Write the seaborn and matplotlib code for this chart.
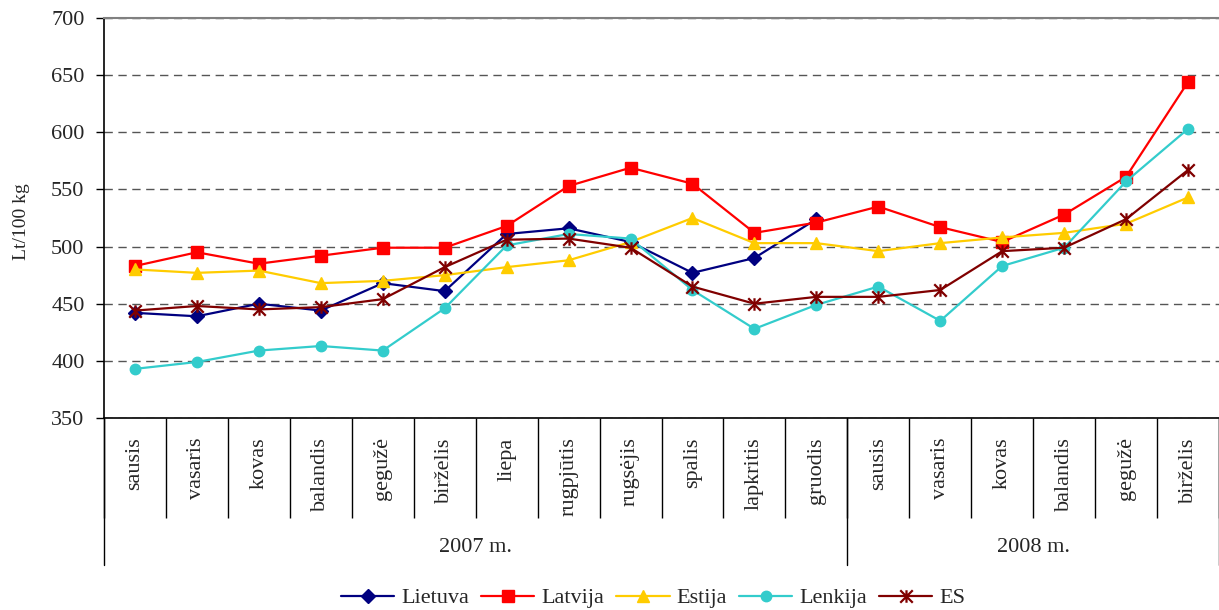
import numpy as np
import pandas as pd
import matplotlib
matplotlib.use("Agg")
import matplotlib.pyplot as plt
import seaborn as sns
from matplotlib.path import Path
from matplotlib.transforms import blended_transform_factory

# Month categories (two years: Jan-Dec 2007, Jan-Jun 2008)
months = ["sausis", "vasaris", "kovas", "balandis", "gegužė", "birželis",
          "liepa", "rugpjūtis", "rugsėjis", "spalis", "lapkritis", "gruodis",
          "sausis", "vasaris", "kovas", "balandis", "gegužė", "birželis"]
years = ["2007 m.", "2008 m."]
months_per_year = [12, 6]

# Prices, Lt/100 kg
lietuva = [442, 439, 450, 444, 468, 461, 511, 516, 504, 477, 490, 524]
latvija = [483, 495, 485, 492, 499, 499, 518, 553, 569, 555, 512, 521,
           535, 517, 504, 528, 561, 644]
estija = [480, 477, 479, 468, 470, 475, 482, 488, 504, 525, 503, 503,
          496, 503, 508, 512, 520, 543]
lenkija = [393, 399, 409, 413, 409, 446, 501, 511, 507, 462, 428, 449,
           465, 435, 483, 499, 557, 603]
es = [444, 448, 445, 447, 454, 482, 506, 507, 499, 465, 450, 456,
      456, 462, 496, 499, 524, 567]

series_names = ["Lietuva", "Latvija", "Estija", "Lenkija", "ES"]
series_values = [lietuva, latvija, estija, lenkija, es]

# Star marker: an X crossed by a vertical stroke
star = Path([(0, -1), (0, 1), (-1, -1), (1, 1), (-1, 1), (1, -1)],
            [Path.MOVETO, Path.LINETO, Path.MOVETO, Path.LINETO,
             Path.MOVETO, Path.LINETO])

styles = {
    "Lietuva": dict(color="#000080", marker="D", markersize=7, mew=1),
    "Latvija": dict(color="#FF0000", marker="s", markersize=8, mew=1),
    "Estija": dict(color="#FFCC00", marker="^", markersize=9, mew=1),
    "Lenkija": dict(color="#33CCCC", marker="o", markersize=7.5, mew=1),
    "ES": dict(color="#800000", marker=star, markersize=9, mew=1.6),
}

FS = 16

sns.set_theme(style="white")
plt.rcParams["font.family"] = ["Liberation Serif", "DejaVu Serif"]

fig = plt.figure(figsize=(12.19, 6.1), dpi=100)
ax = fig.add_axes([104 / 1219, 192 / 610, 1115 / 1219, 400 / 610])

for name, vals in zip(series_names, series_values):
    st = styles[name]
    df = pd.DataFrame({"x": np.arange(len(vals)), "y": vals})
    sns.lineplot(data=df, x="x", y="y", ax=ax, color=st["color"],
                 marker=st["marker"], markersize=st["markersize"],
                 markeredgecolor=st["color"], markeredgewidth=st["mew"],
                 linewidth=1.6, label=name)

# Y axis
ax.set_ylim(350, 700)
ax.set_yticks(np.arange(350, 701, 50))
ax.tick_params(axis="y", left=True, direction="out", length=6, width=1,
               color="black", labelsize=FS, pad=8)
ax.set_ylabel("Lt/100 kg", fontsize=14)
ax.yaxis.set_label_coords(-0.066, 0.49)
ax.grid(axis="y", color="#555555", linestyle=(0, (6, 4)), linewidth=1)
ax.grid(axis="x", visible=False)

# X axis: month boundaries as long ticks, labels centred in each cell
n = len(months)
ax.set_xlim(-0.5, n - 0.5)
ax.set_xticks(np.arange(n + 1) - 0.5)
ax.set_xticklabels([])
ax.set_xticks(np.arange(n), minor=True)
ax.set_xticklabels(months, minor=True, rotation=90, va="top", ha="center",
                   fontsize=FS)
ax.tick_params(axis="x", which="major", bottom=True, direction="out",
               length=72, width=1, color="black")
ax.tick_params(axis="x", which="minor", bottom=True, length=0, pad=14)
ax.set_xlabel("")

# Year groups below the month labels
trans = blended_transform_factory(ax.transData, ax.transAxes)
bounds = np.concatenate([[0], np.cumsum(months_per_year)]) - 0.5
for b in bounds:
    ax.plot([b, b], [0, -0.3675], transform=trans, clip_on=False,
            color="black", linewidth=1)
for yr, start, cnt in zip(years, bounds[:-1], months_per_year):
    ax.text(start + cnt / 2, -0.325, yr, transform=trans, ha="center",
            va="center", fontsize=FS)

# Frame
for side in ["left", "bottom"]:
    ax.spines[side].set_color("black")
    ax.spines[side].set_linewidth(1.2)
ax.spines["top"].set_color("#808080")
ax.spines["top"].set_linewidth(1.5)
ax.spines["right"].set_visible(False)

# Legend along the bottom
handles, labels = ax.get_legend_handles_labels()
if ax.get_legend() is not None:
    ax.get_legend().remove()
fig.legend(handles, labels, loc="center", bbox_to_anchor=(653 / 1219, 1 - 598 / 610),
           ncol=5, frameon=False, fontsize=FS, handlelength=2.4,
           handletextpad=0.3, columnspacing=0.55, borderpad=0)

fig.savefig("out.png", dpi=100)
